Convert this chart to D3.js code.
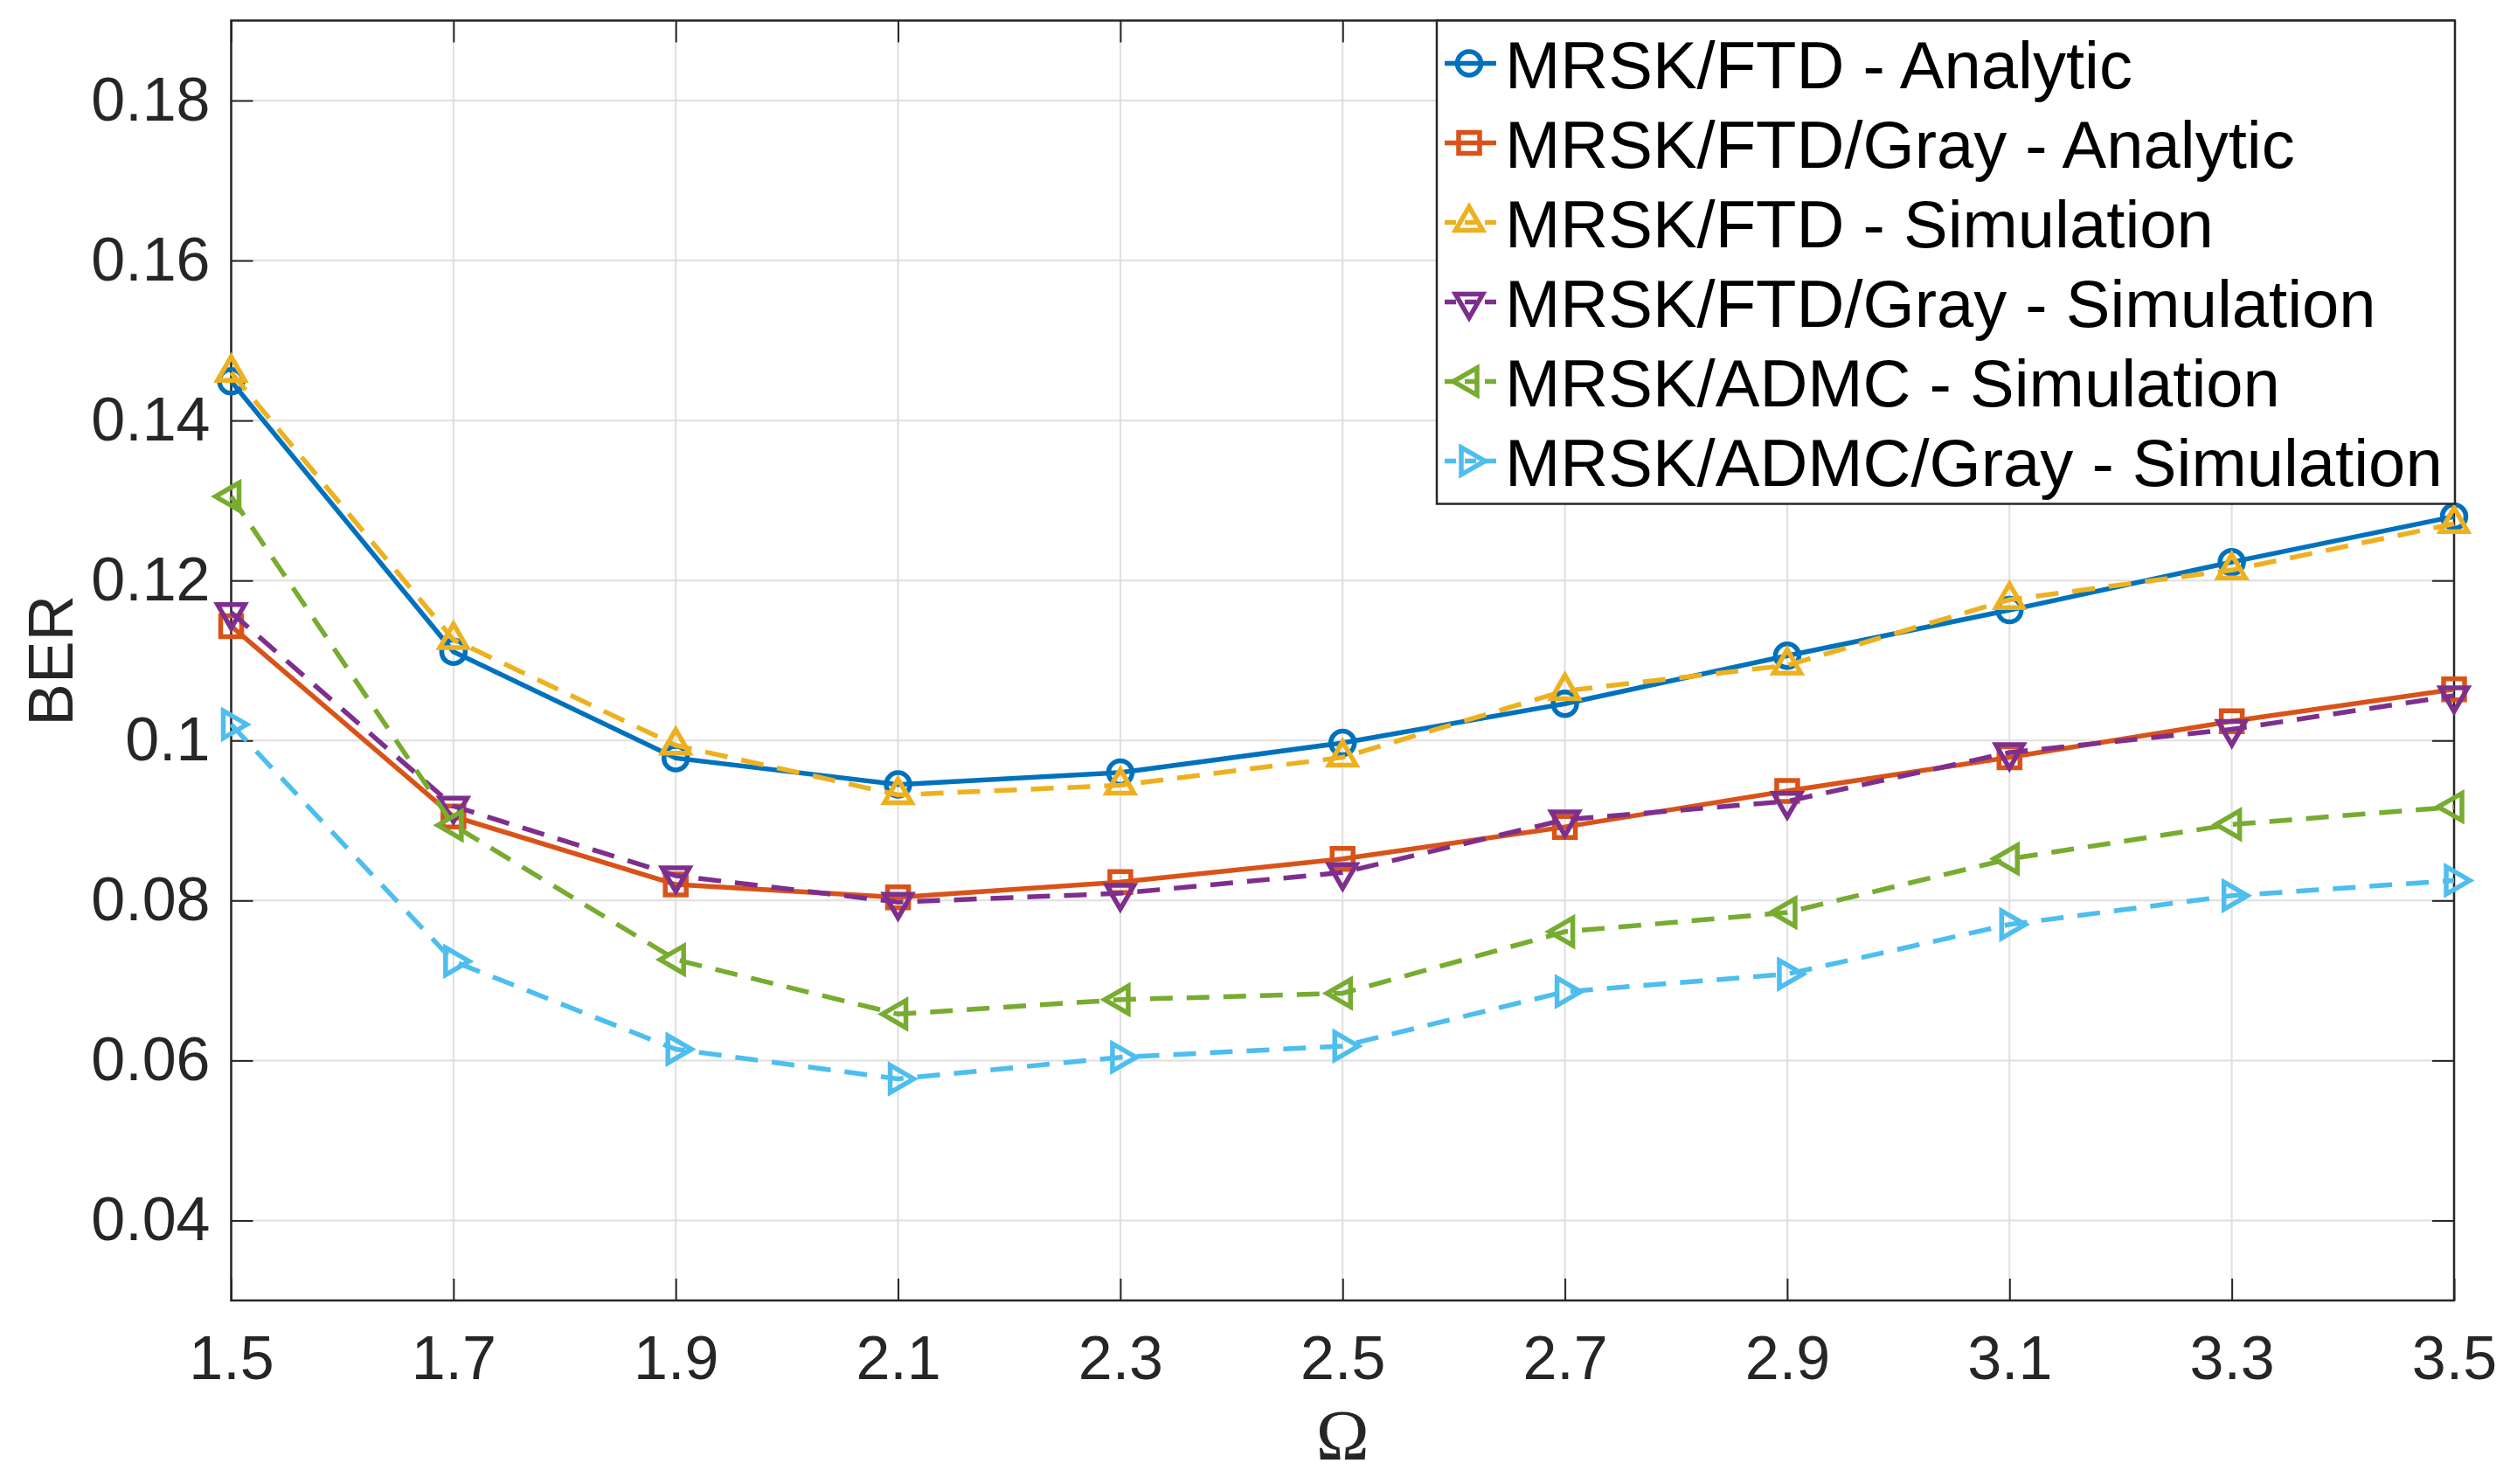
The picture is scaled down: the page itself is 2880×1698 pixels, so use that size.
<!DOCTYPE html>
<html>
<head>
<meta charset="utf-8">
<script src="https://cdn.jsdelivr.net/npm/d3@7"></script>
<style>
  body { margin: 0; background: #fff; }
  svg { display: block; }
</style>
</head>
<body>
<div id="chart"></div>
<script>
// Data
const omega = [1.5, 1.7, 1.9, 2.1, 2.3, 2.5, 2.7, 2.9, 3.1, 3.3, 3.5];
const ftdAnalytic     = [0.1449, 0.1111, 0.0978, 0.0945, 0.0960, 0.0997, 0.1046, 0.1106, 0.1163, 0.1223, 0.1280];
const ftdGrayAnalytic = [0.1143, 0.0905, 0.0820, 0.0804, 0.0823, 0.0852, 0.0892, 0.0937, 0.0979, 0.1024, 0.1064];
const ftdSim          = [0.1460, 0.1126, 0.0994, 0.0932, 0.0944, 0.0979, 0.1062, 0.1094, 0.1176, 0.1213, 0.1271];
const ftdGraySim      = [0.1160, 0.0918, 0.0831, 0.0798, 0.0809, 0.0835, 0.0901, 0.0924, 0.0985, 0.1014, 0.1056];
const admcSim         = [0.1305, 0.0894, 0.0726, 0.0658, 0.0676, 0.0684, 0.0761, 0.0785, 0.0852, 0.0895, 0.0917];
const admcGraySim     = [0.1020, 0.0724, 0.0614, 0.0577, 0.0604, 0.0618, 0.0686, 0.0708, 0.0770, 0.0806, 0.0825];

const seriesNames = [
  "MRSK/FTD - Analytic",
  "MRSK/FTD/Gray - Analytic",
  "MRSK/FTD - Simulation",
  "MRSK/FTD/Gray - Simulation",
  "MRSK/ADMC - Simulation",
  "MRSK/ADMC/Gray - Simulation"
];
const xTicks = [1.5, 1.7, 1.9, 2.1, 2.3, 2.5, 2.7, 2.9, 3.1, 3.3, 3.5];
const yTicks = [0.04, 0.06, 0.08, 0.1, 0.12, 0.14, 0.16, 0.18];

// Series styling (MATLAB default colour order)
const series = [
  { name: seriesNames[0], values: ftdAnalytic,     color: "#0072BD", dash: null,    marker: "circle" },
  { name: seriesNames[1], values: ftdGrayAnalytic, color: "#D95319", dash: null,    marker: "square" },
  { name: seriesNames[2], values: ftdSim,          color: "#EDB120", dash: "26,16", marker: "up" },
  { name: seriesNames[3], values: ftdGraySim,      color: "#7E2F8E", dash: "26,16", marker: "down" },
  { name: seriesNames[4], values: admcSim,         color: "#77AC30", dash: "26,16", marker: "left" },
  { name: seriesNames[5], values: admcGraySim,     color: "#4DBEEE", dash: "26,16", marker: "right" }
];

const W = 2880, H = 1698;
const margin = { top: 23.5, right: 72, bottom: 210, left: 264.5 };
const width = W - margin.left - margin.right;
const height = H - margin.top - margin.bottom;
const axisColor = "#262626";
const sans = "'Liberation Sans', Arial, Helvetica, sans-serif";
const lw = 5.5;

const x = d3.scaleLinear().domain([1.5, 3.5]).range([0, width]);
const y = d3.scaleLinear().domain([0.03, 0.19]).range([height, 0]);

const svg = d3.select("#chart").append("svg")
    .attr("width", W)
    .attr("height", H)
  .append("g")
    .attr("transform", `translate(${margin.left},${margin.top})`);

// Grid
svg.append("g").selectAll("line").data(xTicks).join("line")
    .attr("x1", d => x(d)).attr("x2", d => x(d))
    .attr("y1", 0).attr("y2", height)
    .attr("stroke", "#dfdfdf").attr("stroke-width", 2);
svg.append("g").selectAll("line").data(yTicks).join("line")
    .attr("x1", 0).attr("x2", width)
    .attr("y1", d => y(d)).attr("y2", d => y(d))
    .attr("stroke", "#dfdfdf").attr("stroke-width", 2);

// Axes with inward ticks on all four sides
const tickLen = 25;
function styleAxis(g) {
  g.select(".domain").remove();
  g.selectAll(".tick line").attr("stroke", axisColor).attr("stroke-width", 2);
  g.selectAll(".tick text")
    .attr("fill", axisColor)
    .style("font-family", sans)
    .style("font-size", "70px");
}
svg.append("g")
    .attr("transform", `translate(0,${height})`)
    .call(d3.axisBottom(x).tickValues(xTicks).tickSize(-tickLen).tickPadding(40).tickFormat(d3.format(".1f")))
    .call(styleAxis);
svg.append("g")
    .call(d3.axisTop(x).tickValues(xTicks).tickSize(-tickLen).tickFormat(""))
    .call(styleAxis);
svg.append("g")
    .call(d3.axisLeft(y).tickValues(yTicks).tickSize(-tickLen).tickPadding(24).tickFormat(d => String(+d.toFixed(2))))
    .call(styleAxis);
svg.append("g")
    .attr("transform", `translate(${width},0)`)
    .call(d3.axisRight(y).tickValues(yTicks).tickSize(-tickLen).tickFormat(""))
    .call(styleAxis);

svg.append("rect")
    .attr("width", width).attr("height", height)
    .attr("fill", "none").attr("stroke", axisColor).attr("stroke-width", 2.5);

// Axis labels
svg.append("text")
    .attr("x", width / 2).attr("y", height + 182)
    .attr("text-anchor", "middle")
    .attr("fill", axisColor)
    .style("font-family", "'Liberation Serif', 'Times New Roman', serif")
    .style("font-size", "82px")
    .text("Ω");
svg.append("text")
    .attr("transform", `translate(${83 - margin.left},${height / 2}) rotate(-90)`)
    .attr("text-anchor", "middle")
    .attr("fill", axisColor)
    .style("font-family", sans)
    .style("font-size", "73px")
    .text("BER");

// Marker shapes
function markerPath(type) {
  const r = 13.5, t = 18;
  const tri = ang => d3.range(3).map(i => {
    const a = ang + i * 2 * Math.PI / 3;
    return [t * Math.cos(a), t * Math.sin(a)];
  });
  const poly = pts => "M" + pts.map(p => p.join(",")).join("L") + "Z";
  switch (type) {
    case "circle": return d3.symbol().type(d3.symbolCircle).size(Math.PI * r * r)();
    case "square": return `M-12,-12H12V12H-12Z`;
    case "up":     return poly(tri(-Math.PI / 2));
    case "down":   return poly(tri(Math.PI / 2));
    case "left":   return poly(tri(Math.PI));
    case "right":  return poly(tri(0));
  }
}

const line = d3.line()
    .x((d, i) => x(omega[i]))
    .y(d => y(d));

series.forEach(s => {
  const g = svg.append("g");
  g.append("path")
      .datum(s.values)
      .attr("fill", "none")
      .attr("stroke", s.color)
      .attr("stroke-width", lw)
      .attr("stroke-dasharray", s.dash)
      .attr("d", line);
  g.selectAll("path.m").data(s.values).join("path")
      .attr("class", "m")
      .attr("transform", (d, i) => `translate(${x(omega[i])},${y(d)})`)
      .attr("d", markerPath(s.marker))
      .attr("fill", "none")
      .attr("stroke", s.color)
      .attr("stroke-width", lw);
});

// Legend
const lg = { left: 1644 - margin.left, top: 0, w: 1165, h: 553, row: 91, first: 49 };
const legend = svg.append("g").attr("transform", `translate(${lg.left},${lg.top})`);
legend.append("rect")
    .attr("width", lg.w).attr("height", lg.h)
    .attr("fill", "#fff").attr("stroke", axisColor).attr("stroke-width", 2.5);
const items = legend.selectAll("g.item").data(series).join("g")
    .attr("transform", (d, i) => `translate(0,${lg.first + i * lg.row})`);
items.append("line")
    .attr("x1", 9).attr("x2", 68)
    .attr("stroke", d => d.color)
    .attr("stroke-width", lw)
    .attr("stroke-dasharray", d => d.dash ? "13,10" : null);
items.append("path")
    .attr("transform", "translate(37,0)")
    .attr("d", d => markerPath(d.marker))
    .attr("fill", "none")
    .attr("stroke", d => d.color)
    .attr("stroke-width", lw);
items.append("text")
    .attr("x", 78).attr("y", 28)
    .attr("fill", "#000")
    .style("font-family", sans)
    .style("font-size", "76px")
    .text(d => d.name);
</script>
</body>
</html>
